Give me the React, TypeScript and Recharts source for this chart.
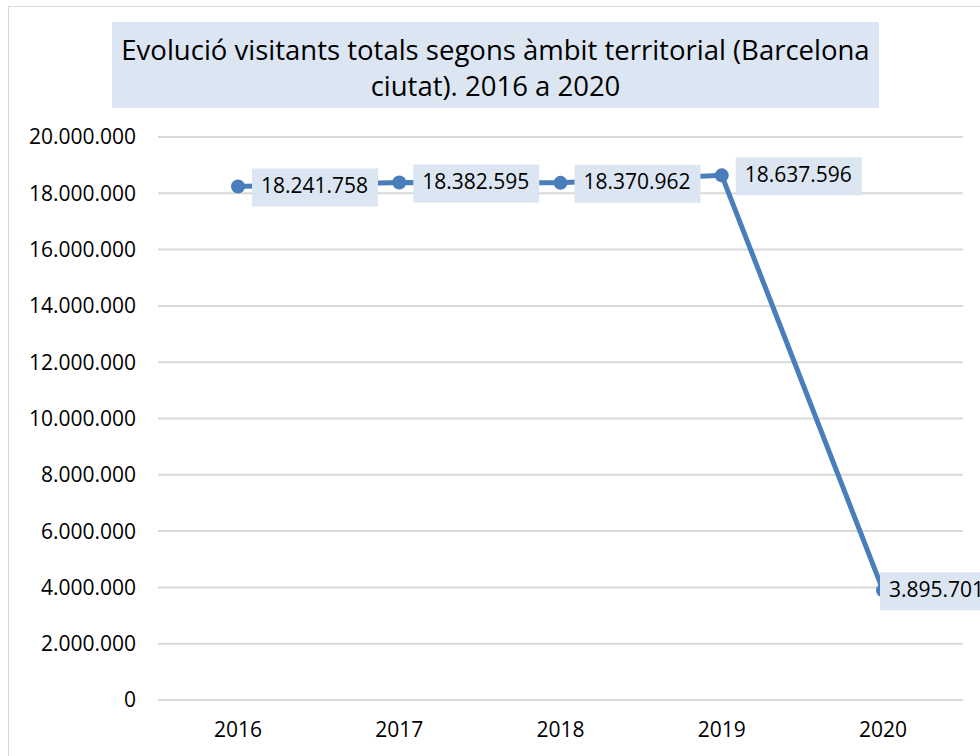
import React from 'react';
import { LineChart, Line, XAxis, YAxis, CartesianGrid, LabelList } from 'recharts';

const years = ['2016', '2017', '2018', '2019', '2020'];
const visitants = [18241758, 18382595, 18370962, 18637596, 3895701];
const yTicks = [0, 2000000, 4000000, 6000000, 8000000, 10000000, 12000000, 14000000, 16000000, 18000000, 20000000];

const data = years.map((year, i) => ({ year, value: visitants[i] }));

const FONT = '"Open Sans", "Noto Sans", sans-serif';
const BLUE = '#4a7ebb';
const LABEL_BG = '#dce6f2';

const fmt = (v: number) => String(Math.round(v)).replace(/\B(?=(\d{3})+(?!\d))/g, '.');

const DataLabel = (props: any) => {
  const { x, y, value, index } = props;
  const text = fmt(value);
  const w = text.length * 11.3 + 13;
  const dx = index === visitants.length - 1 ? -3 : 14;
  return (
    <g>
      <rect x={x + dx} y={y - 18} width={w} height={38} fill={LABEL_BG} />
      <text
        x={x + dx + 9}
        y={y + 1}
        dominantBaseline="middle"
        fontSize={21}
        fontFamily={FONT}
        fill="#000"
      >
        {text}
      </text>
    </g>
  );
};

export default function App() {
  return (
    <div
      style={{
        position: 'fixed',
        left: 8,
        top: 6,
        width: 972,
        height: 750,
        overflow: 'hidden',
        borderLeft: '1px solid #d9d9d9',
        borderTop: '1px solid #d9d9d9',
        background: '#fff',
        fontFamily: FONT,
      }}
    >
      <LineChart
        width={971}
        height={749}
        data={data}
        margin={{ top: 130, right: 17, left: 0, bottom: 0 }}
        style={{ overflow: 'visible' }}
      >
        <CartesianGrid vertical={false} stroke="#d9d9d9" strokeWidth={2} />
        <XAxis
          dataKey="year"
          height={56}
          padding={{ left: 80, right: 80 }}
          axisLine={false}
          tickLine={false}
          tickSize={0}
          tickMargin={22}
          tick={{ fill: '#000', fontSize: 21, fontFamily: FONT }}
        />
        <YAxis
          width={149}
          domain={[0, 20000000]}
          ticks={yTicks}
          interval={0}
          axisLine={false}
          tickLine={false}
          tickSize={0}
          tickMargin={22}
          tickFormatter={fmt}
          tick={{ fill: '#000', fontSize: 21, fontFamily: FONT }}
        />
        <Line
          type="linear"
          dataKey="value"
          stroke={BLUE}
          strokeWidth={5}
          dot={{ r: 7, fill: BLUE, stroke: BLUE, strokeWidth: 0 }}
          activeDot={false}
          isAnimationActive={false}
        >
          <LabelList dataKey="value" content={DataLabel} />
        </Line>
      </LineChart>
      <div
        style={{
          position: 'absolute',
          left: 103,
          top: 15,
          width: 767,
          height: 86,
          background: LABEL_BG,
          color: '#000',
          fontSize: 27.5,
          lineHeight: '36px',
          textAlign: 'center',
          paddingTop: 10,
          boxSizing: 'border-box',
        }}
      >
        Evolució visitants totals segons àmbit territorial (Barcelona
        <br />
        ciutat). 2016 a 2020
      </div>
    </div>
  );
}
